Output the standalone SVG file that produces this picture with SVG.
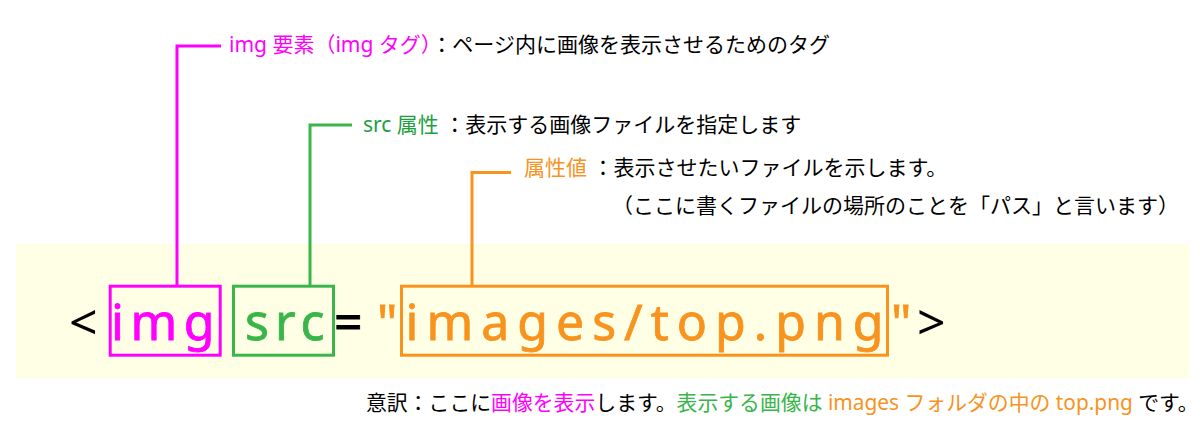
<svg xmlns="http://www.w3.org/2000/svg" width="1200" height="445" viewBox="0 0 1200 445">
<style>
.code{font-family:"Noto Sans","Open Sans",sans-serif;font-size:50px;letter-spacing:8px;stroke-width:0.8px}
.lbl{font-family:"Noto Sans","Noto Sans CJK JP",sans-serif;font-size:21px;fill:#000}
.mg{fill:#FF00FF}.gr{fill:#39B54A}.grd{fill:#1E9F40}.or{fill:#F7931E}.bk{fill:#000}
.code.mg{stroke:#FF00FF}.code.gr{stroke:#39B54A}.code.or{stroke:#F7931E}
.box{fill:none;stroke-width:3}
.conn{fill:none;stroke-width:3}
</style>
<rect id="band" x="16" y="244" width="1173" height="134" fill="#FFFFE6"/>
<g id="connectors">
<polyline class="conn" stroke="#FF00FF" points="221,46 177,46 177,285"/>
<polyline class="conn" stroke="#39B54A" points="352,125 310,125 310,285"/>
<polyline class="conn" stroke="#F7931E" points="511,172.5 472,172.5 472,285"/>
</g>
<g id="punct">
<text class="code bk" x="69" y="340">&lt;</text>
<text class="code bk" x="334" y="340" stroke="#000">=</text>
<text class="code or" x="377" y="340">"</text>
<text class="code or" x="891" y="340">"</text>
<text class="code bk" x="917" y="340">&gt;</text>
</g>
<g id="node-img">
<rect class="box" stroke="#FF00FF" x="110.2" y="286.2" width="110" height="69"/>
<text class="code mg" x="111" y="340" style="letter-spacing:6.5px">img</text>
</g>
<g id="node-src">
<rect class="box" stroke="#39B54A" x="233.5" y="286.2" width="100" height="69"/>
<text class="code gr" x="245" y="340" style="letter-spacing:6px">src</text>
</g>
<g id="node-value">
<rect class="box" stroke="#F7931E" x="401.5" y="286.2" width="486" height="69"/>
<text class="code or" x="405.5" y="340">images/top.png</text>
</g>
<g id="label-img">
<text class="lbl" x="229" y="52"><tspan class="mg">img 要素（img タグ）</tspan>：ページ内に画像を表示させるためのタグ</text>
</g>
<g id="label-src">
<text class="lbl" x="363" y="131.5"><tspan class="grd">src 属性</tspan> ：表示する画像ファイルを指定します</text>
</g>
<g id="label-value">
<text class="lbl" x="524" y="175"><tspan class="or">属性値</tspan> ：表示させたいファイルを示します。</text>
<text class="lbl" x="612" y="213">（ここに書くファイルの場所のことを「パス」と言います）</text>
</g>
<g id="translation">
<text class="lbl" x="366" y="410" style="font-size:20.85px">意訳：ここに<tspan class="mg">画像を表示</tspan>します。<tspan class="gr">表示する画像は</tspan><tspan class="or"> images フォルダの中の top.png</tspan> です。</text>
</g>
</svg>
